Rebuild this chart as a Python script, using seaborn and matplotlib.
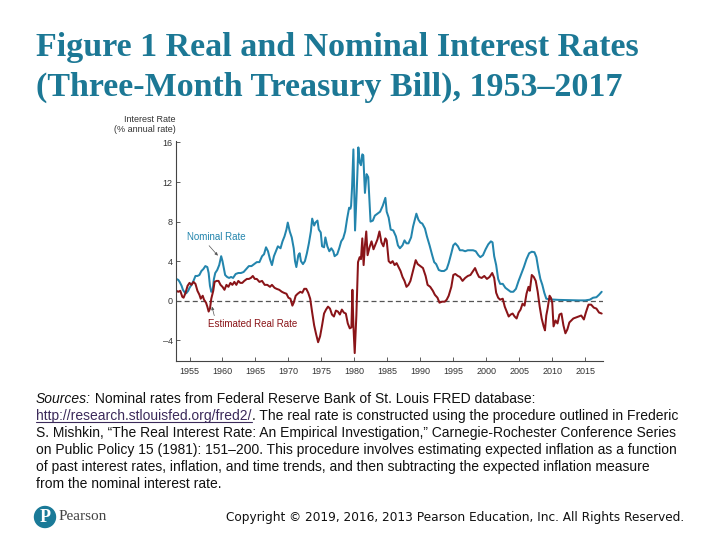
import matplotlib
matplotlib.use("Agg")
import matplotlib.pyplot as plt
import matplotlib.transforms as mtransforms
from matplotlib.lines import Line2D
from matplotlib.patches import Circle
import seaborn as sns

# ---------------- data ----------------
nominal_years = [1953.0, 1953.3, 1953.5, 1953.8, 1954.0, 1954.3, 1954.5, 1954.8, 1955.0, 1955.3,
                 1955.6, 1955.9, 1956.2, 1956.5, 1956.8, 1957.1, 1957.4, 1957.7, 1957.9, 1958.1,
                 1958.3, 1958.5, 1958.7, 1958.9, 1959.2, 1959.5, 1959.8, 1960.0, 1960.2, 1960.4,
                 1960.7, 1961.0, 1961.3, 1961.6, 1962.0, 1962.4, 1962.8, 1963.2, 1963.6, 1964.0,
                 1964.4, 1964.8, 1965.2, 1965.6, 1966.0, 1966.3, 1966.6, 1966.9, 1967.2, 1967.5,
                 1967.8, 1968.1, 1968.4, 1968.8, 1969.1, 1969.4, 1969.7, 1969.9, 1970.2, 1970.5,
                 1970.8, 1971.0, 1971.2, 1971.5, 1971.7, 1971.9, 1972.2, 1972.5, 1972.8, 1973.1,
                 1973.4, 1973.6, 1973.9, 1974.1, 1974.4, 1974.6, 1974.9, 1975.1, 1975.4, 1975.6,
                 1975.9, 1976.2, 1976.5, 1976.8, 1977.0, 1977.4, 1977.7, 1978.0, 1978.3, 1978.6,
                 1978.9, 1979.2, 1979.4, 1979.5, 1979.65, 1979.85, 1980.1, 1980.35, 1980.6, 1980.8,
                 1981.0, 1981.2, 1981.35, 1981.6, 1981.85, 1982.1, 1982.45, 1982.8, 1983.1, 1983.5,
                 1983.9, 1984.3, 1984.7, 1984.9, 1985.2, 1985.5, 1985.9, 1986.3, 1986.6, 1986.9,
                 1987.3, 1987.6, 1987.9, 1988.2, 1988.6, 1988.9, 1989.2, 1989.4, 1989.7, 1990.0,
                 1990.3, 1990.7, 1991.0, 1991.4, 1991.8, 1992.1, 1992.4, 1992.8, 1993.2, 1993.6,
                 1994.0, 1994.3, 1994.7, 1995.0, 1995.3, 1995.7, 1996.0, 1996.4, 1996.8, 1997.2,
                 1997.6, 1998.0, 1998.4, 1998.8, 1999.1, 1999.5, 1999.9, 2000.3, 2000.7, 2000.95,
                 2001.2, 2001.5, 2001.8, 2002.1, 2002.5, 2002.9, 2003.3, 2003.7, 2004.1, 2004.5,
                 2004.9, 2005.3, 2005.7, 2006.1, 2006.5, 2006.9, 2007.3, 2007.6, 2007.9, 2008.2,
                 2008.5, 2008.8, 2009.1, 2009.5, 2010.0, 2011.0, 2012.0, 2013.0, 2014.0, 2015.0,
                 2015.7, 2016.2, 2016.7, 2017.1, 2017.5]
nominal_rate = [2.2, 2.1, 1.9, 1.5, 1.1, 0.8, 0.75, 1.0, 1.3, 1.6,
                2.0, 2.5, 2.5, 2.6, 3.0, 3.2, 3.5, 3.4, 2.8, 1.5,
                0.9, 1.0, 2.2, 2.8, 3.1, 3.6, 4.5, 4.0, 3.3, 2.6,
                2.4, 2.3, 2.4, 2.3, 2.7, 2.8, 2.8, 2.9, 3.2, 3.5,
                3.5, 3.7, 3.9, 3.9, 4.5, 4.7, 5.4, 5.0, 4.2, 3.6,
                4.5, 5.0, 5.5, 5.3, 6.0, 6.5, 7.2, 7.9, 7.0, 6.4,
                5.3, 4.0, 3.4, 4.6, 4.8, 4.0, 3.7, 4.0, 4.8, 5.8,
                7.0, 8.3, 7.6, 7.9, 8.1, 7.2, 6.9, 5.5, 5.4, 6.4,
                5.5, 5.0, 5.3, 5.0, 4.5, 4.7, 5.3, 6.0, 6.3, 7.0,
                8.3, 9.4, 9.3, 9.6, 11.5, 15.3, 7.1, 11.0, 15.5, 14.0,
                13.7, 14.8, 14.7, 10.9, 12.8, 12.5, 8.0, 8.1, 8.6, 8.8,
                9.0, 9.6, 10.4, 9.0, 8.4, 7.2, 7.1, 6.5, 5.6, 5.3,
                5.6, 6.1, 5.8, 5.8, 6.4, 7.5, 8.3, 8.8, 8.2, 7.9,
                7.8, 7.3, 6.5, 5.6, 4.6, 3.9, 3.7, 3.1, 3.0, 3.0,
                3.2, 3.8, 4.8, 5.6, 5.8, 5.5, 5.1, 5.1, 5.0, 5.1,
                5.1, 5.1, 5.0, 4.6, 4.4, 4.6, 5.2, 5.7, 6.0, 5.9,
                4.5, 3.6, 2.2, 1.7, 1.7, 1.3, 1.1, 0.9, 0.9, 1.2,
                2.0, 2.7, 3.4, 4.2, 4.8, 4.95, 4.9, 4.4, 3.2, 2.2,
                1.6, 0.8, 0.2, 0.15, 0.12, 0.08, 0.06, 0.04, 0.03, 0.03,
                0.1, 0.3, 0.35, 0.6, 0.9]

real_years = [1953.0, 1953.3, 1953.6, 1953.9, 1954.1, 1954.4, 1954.7, 1955.0, 1955.3, 1955.6,
              1955.9, 1956.2, 1956.5, 1956.7, 1957.0, 1957.2, 1957.5, 1957.7, 1957.9, 1958.1,
              1958.3, 1958.6, 1958.8, 1959.1, 1959.4, 1959.7, 1960.0, 1960.3, 1960.6, 1960.9,
              1961.2, 1961.5, 1961.8, 1962.1, 1962.4, 1962.7, 1963.0, 1963.3, 1963.7, 1964.0,
              1964.3, 1964.6, 1964.9, 1965.2, 1965.6, 1966.0, 1966.4, 1966.8, 1967.2, 1967.5,
              1967.9, 1968.2, 1968.6, 1969.0, 1969.3, 1969.7, 1970.0, 1970.3, 1970.6, 1970.8,
              1971.1, 1971.4, 1971.8, 1972.1, 1972.4, 1972.7, 1973.0, 1973.3, 1973.6, 1973.9,
              1974.2, 1974.5, 1974.8, 1975.1, 1975.4, 1975.7, 1976.0, 1976.3, 1976.6, 1976.9,
              1977.2, 1977.5, 1977.8, 1978.1, 1978.4, 1978.7, 1979.0, 1979.3, 1979.55, 1979.7,
              1979.85, 1980.05, 1980.3, 1980.55, 1980.8, 1981.0, 1981.2, 1981.4, 1981.6, 1981.8,
              1982.0, 1982.3, 1982.6, 1982.9, 1983.2, 1983.5, 1983.8, 1984.1, 1984.4, 1984.7,
              1984.9, 1985.2, 1985.5, 1985.8, 1986.1, 1986.4, 1986.7, 1987.0, 1987.3, 1987.6,
              1987.9, 1988.2, 1988.5, 1988.8, 1989.1, 1989.3, 1989.6, 1990.0, 1990.4, 1990.8,
              1991.1, 1991.5, 1991.9, 1992.2, 1992.6, 1992.9, 1993.3, 1993.7, 1994.0, 1994.3,
              1994.7, 1995.0, 1995.3, 1995.7, 1996.0, 1996.4, 1996.8, 1997.2, 1997.6, 1998.0,
              1998.3, 1998.6, 1998.9, 1999.3, 1999.7, 2000.1, 2000.5, 2000.9, 2001.2, 2001.5,
              2001.8, 2002.1, 2002.5, 2002.8, 2003.1, 2003.4, 2003.7, 2004.0, 2004.3, 2004.6,
              2004.9, 2005.2, 2005.5, 2005.8, 2006.1, 2006.4, 2006.6, 2006.9, 2007.2, 2007.5,
              2007.8, 2008.1, 2008.4, 2008.7, 2008.9, 2009.1, 2009.3, 2009.6, 2009.8, 2010.0,
              2010.2, 2010.5, 2010.8, 2011.1, 2011.4, 2011.7, 2012.0, 2012.3, 2012.6, 2012.9,
              2013.2, 2013.6, 2014.0, 2014.4, 2014.8, 2015.1, 2015.5, 2015.9, 2016.3, 2016.7,
              2017.1, 2017.5]
real_rate = [1.0, 0.9, 1.0, 0.4, 0.3, 0.8, 1.5, 1.8, 1.6, 1.9,
             1.7, 1.0, 0.6, 0.2, 0.5, 0.1, -0.2, -0.6, -1.1, -0.8,
             0.2, 1.0, 1.9, 2.0, 2.0, 1.6, 1.4, 1.1, 1.6, 1.4,
             1.8, 1.6, 1.9, 1.6, 2.0, 1.8, 1.8, 2.0, 2.2, 2.2,
             2.3, 2.5, 2.2, 2.2, 1.9, 2.0, 1.6, 1.6, 1.4, 1.6,
             1.3, 1.2, 1.1, 0.9, 0.8, 0.7, 0.3, 0.2, -0.5, -0.2,
             0.5, 0.7, 0.9, 0.8, 1.2, 1.2, 0.8, 0.2, -1.2, -2.5,
             -3.4, -4.2, -3.6, -2.5, -1.3, -0.9, -0.6, -0.8, -1.4, -1.6,
             -1.0, -1.1, -1.4, -0.9, -1.2, -1.3, -2.3, -2.8, -2.7, 1.1,
             -2.5, -5.3, -1.5, 3.9, 4.4, 4.2, 6.3, 3.6, 5.6, 7.0,
             4.6, 5.4, 6.0, 5.2, 5.7, 6.2, 7.0, 5.9, 5.5, 6.3,
             6.1, 4.0, 3.8, 4.0, 3.6, 3.8, 3.4, 3.0, 2.4, 2.0,
             1.4, 1.6, 2.0, 2.8, 3.6, 4.1, 3.7, 3.5, 3.3, 2.5,
             1.6, 1.4, 1.0, 0.6, 0.3, -0.2, -0.1, -0.1, 0.1, 0.5,
             1.4, 2.6, 2.7, 2.5, 2.4, 2.0, 2.3, 2.5, 2.6, 3.0,
             3.3, 2.8, 2.4, 2.3, 2.5, 2.2, 2.4, 2.8, 2.3, 0.8,
             0.3, 0.1, 0.2, -0.6, -1.1, -1.6, -1.4, -1.3, -1.6, -1.8,
             -1.2, -0.9, -0.3, -0.5, 0.7, 1.4, 1.0, 2.6, 2.4, 2.0,
             0.9, -0.6, -1.8, -2.6, -3.0, -1.5, -0.8, 0.5, 0.3, -0.2,
             -2.6, -2.0, -2.3, -1.4, -1.3, -2.5, -3.3, -2.9, -2.2, -2.0,
             -1.8, -1.7, -1.6, -1.5, -1.9, -1.2, -0.4, -0.4, -0.7, -0.8,
             -1.2, -1.3]

x_ticks = [1955, 1960, 1965, 1970, 1975, 1980, 1985, 1990, 1995, 2000, 2005, 2010, 2015]
y_ticks = [-4, 0, 4, 8, 12, 16]

title_lines = ["Figure 1 Real and Nominal Interest Rates",
               "(Three-Month Treasury Bill), 1953\u20132017"]
y_label_lines = ["Interest Rate", "(% annual rate)"]
nominal_label = "Nominal Rate"
real_label = "Estimated Real Rate"

# ---------------- style ----------------
sns.set_theme(style="white")
plt.rcParams["font.family"] = ["Liberation Sans", "DejaVu Sans"]

NOM_COLOR = "#2385ad"
REAL_COLOR = "#8a1418"
TITLE_COLOR = "#1c7895"
AX_COLOR = "#444444"

W, H = 720, 540
fig = plt.figure(figsize=(7.2, 5.4), dpi=100)
fig.patch.set_facecolor("white")

ax_left, ax_right, ax_top, ax_bottom = 176, 603, 141, 361
ax = fig.add_axes([ax_left / W, 1 - ax_bottom / H, (ax_right - ax_left) / W, (ax_bottom - ax_top) / H])
ax.set_facecolor("white")

sns.lineplot(x=nominal_years, y=nominal_rate, ax=ax, color=NOM_COLOR, linewidth=1.45,
             estimator=None, sort=False)
sns.lineplot(x=real_years, y=real_rate, ax=ax, color=REAL_COLOR, linewidth=1.45,
             estimator=None, sort=False)

ax.axhline(0, color="#555555", linewidth=0.9, linestyle=(0, (4, 2.5)), zorder=1)

ax.set_xlim(1952.95, 2017.7)
ax.set_ylim(-6.1, 16.15)
ax.set_xticks(x_ticks)
ax.set_yticks(y_ticks)
ax.set_yticklabels([str(v).replace("-", "\u2013") for v in y_ticks])
ax.tick_params(axis="both", direction="in", length=3, width=0.6, color=AX_COLOR,
               labelsize=6.5, labelcolor="#333333", pad=2.5)
ax.tick_params(axis="x", pad=4)
ax.tick_params(axis="y", left=True)
ax.tick_params(axis="x", bottom=True)
for side in ["top", "right"]:
    ax.spines[side].set_visible(False)
for side in ["left", "bottom"]:
    ax.spines[side].set_color(AX_COLOR)
    ax.spines[side].set_linewidth(0.8)
ax.set_xlabel("")
ax.set_ylabel("")

# annotations
ax.annotate(nominal_label, xy=(1959.3, 4.55), xytext=(1954.6, 6.4),
            color=NOM_COLOR, fontsize=7, va="center", ha="left",
            arrowprops=dict(arrowstyle="-|>,head_length=0.25,head_width=0.12", color="#555555",
                            lw=0.5, shrinkA=0, shrinkB=0,
                            relpos=(0.33, 0.0)))
ax.annotate(real_label, xy=(1958.4, -0.6), xytext=(1957.8, -2.35),
            color=REAL_COLOR, fontsize=7, va="center", ha="left",
            arrowprops=dict(arrowstyle="-|>,head_length=0.25,head_width=0.12", color="#555555",
                            lw=0.5, shrinkA=0, shrinkB=0,
                            relpos=(0.08, 1.0)))

ident = mtransforms.IdentityTransform()

def px(x, y):
    return x, H - y

# y-axis caption
for i, line in enumerate(y_label_lines):
    xx, yy = px(176, 119 + 11 * i)
    fig.text(xx, yy, line, transform=ident, ha="right", va="center", fontsize=6.5, color="#333333")

# title
for i, line in enumerate(title_lines):
    xx, yy = px(36, 56 + 40 * i)
    fig.text(xx, yy, line, transform=ident, ha="left", va="baseline", fontsize=24.5,
             fontweight="bold", family=["Liberation Serif", "DejaVu Serif"], color=TITLE_COLOR)

# sources text
src_font = dict(fontsize=10, family=["Liberation Sans Narrow", "Liberation Sans", "DejaVu Sans"],
                color="#111111", va="baseline", ha="left")
renderer = fig.canvas.get_renderer()

def seq(x0, ybase, pieces):
    x = x0
    for s, extra in pieces:
        kw = dict(src_font)
        kw.update(extra)
        underline = kw.pop("underline", False)
        xx, yy = px(x, ybase)
        t = fig.text(xx, yy, s, transform=ident, **kw)
        bb = t.get_window_extent(renderer)
        if underline:
            fig.add_artist(Line2D([bb.x0, bb.x1], [yy - 2, yy - 2], transform=ident,
                                  color=kw.get("color"), linewidth=0.8))
        x = bb.x1

base0 = 403
step = 17
seq(36, base0, [("Sources:", {"style": "italic"}),
                (" Nominal rates from Federal Reserve Bank of St. Louis FRED database:", {})])
seq(36, base0 + step, [("http://research.stlouisfed.org/fred2/", {"color": "#3b2a5a", "underline": True}),
                       (". The real rate is constructed using the procedure outlined in Frederic", {})])
seq(36, base0 + 2 * step, [("S. Mishkin, \u201cThe Real Interest Rate: An Empirical Investigation,\u201d Carnegie-Rochester Conference Series", {})])
seq(36, base0 + 3 * step, [("on Public Policy 15 (1981): 151\u2013200. This procedure involves estimating expected inflation as a function", {})])
seq(36, base0 + 4 * step, [("of past interest rates, inflation, and time trends, and then subtracting the expected inflation measure", {})])
seq(36, base0 + 5 * step, [("from the nominal interest rate.", {})])

# footer
cx, cy = px(45, 517)
fig.add_artist(Circle((cx, cy), 10.5, transform=ident, color="#1a7a98"))
fig.text(cx, cy - 1, "P", transform=ident, ha="center", va="center", fontsize=13,
         fontweight="bold", color="white", family=["Liberation Serif", "DejaVu Serif"])
xx, yy = px(59, 517)
fig.text(xx, yy, "Pearson", transform=ident, ha="left", va="center", fontsize=11,
         color="#444444", family=["Liberation Serif", "DejaVu Serif"])
xx, yy = px(684, 517)
fig.text(xx, yy, "Copyright \u00a9 2019, 2016, 2013 Pearson Education, Inc. All Rights Reserved.",
         transform=ident, ha="right", va="center", fontsize=8.7, color="#111111",
         family=["DejaVu Sans"])

fig.savefig("out.png", dpi=100, facecolor="white")
